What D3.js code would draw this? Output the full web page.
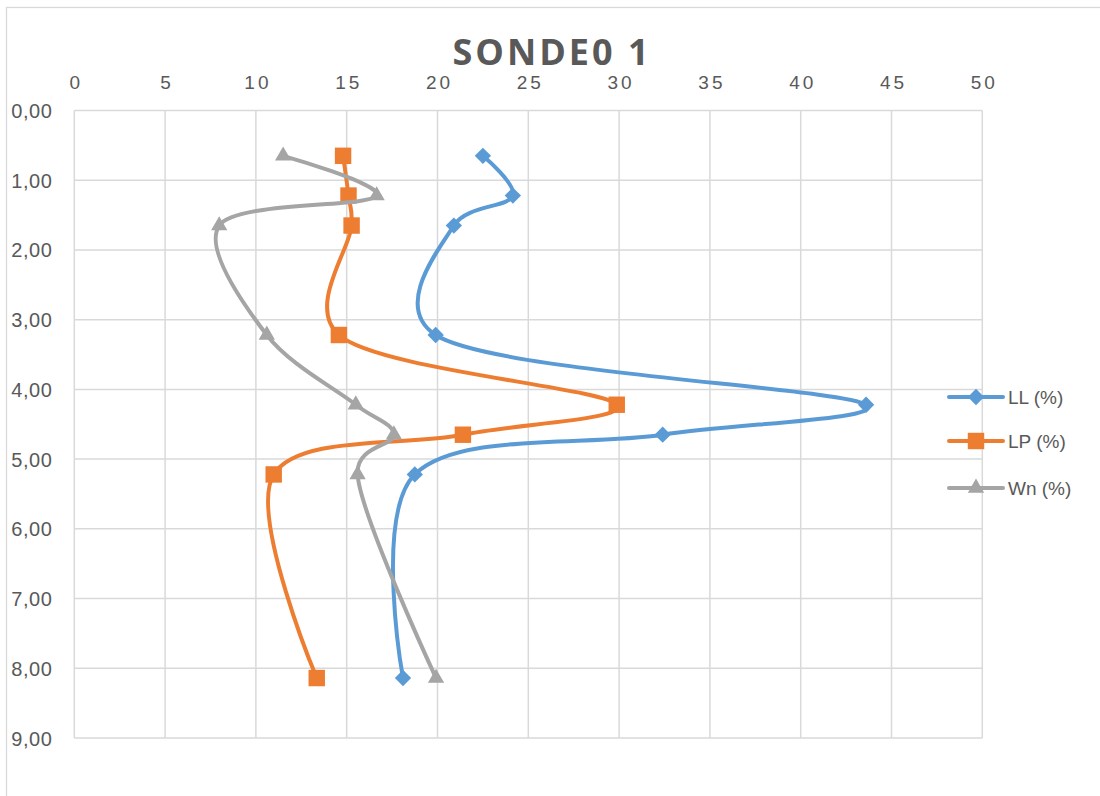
<!DOCTYPE html>
<html>
<head>
<meta charset="utf-8">
<script src="https://cdn.jsdelivr.net/npm/d3@7"></script>
<style>
  body { margin: 0; background: #fff; }
  text { font-family: "Liberation Sans", Arial, sans-serif; fill: #595959; }
</style>
</head>
<body>
<div id="chart"></div>
<script>
// data
var depths = [0.65, 1.22, 1.65, 3.22, 4.22, 4.65, 5.22, 8.14];
var llValues = [22.5, 24.15, 20.9, 19.9, 43.6, 32.4, 18.75, 18.1];
var lpValues = [14.8, 15.1, 15.27, 14.57, 29.87, 21.4, 10.98, 13.35];
var wnValues = [11.5, 16.65, 7.98, 10.6, 15.5, 17.6, 15.6, 19.92];
var seriesNames = ["LL (%)", "LP (%)", "Wn (%)"];
var xTicks = [0, 5, 10, 15, 20, 25, 30, 35, 40, 45, 50];
var yTicks = [0, 1, 2, 3, 4, 5, 6, 7, 8, 9];

var svgWidth = 1100;
var svgHeight = 796;
var margin = { top: 110.5, left: 74.3 };
var width = 908;
var height = 627.5;

var svg = d3.select("#chart")
    .append("svg")
    .attr("width", svgWidth)
    .attr("height", svgHeight);

// chart border
svg.append("rect")
    .attr("x", 6.5).attr("y", 7.5)
    .attr("width", 1200).attr("height", 900)
    .attr("fill", "none")
    .attr("stroke", "#d9d9d9")
    .attr("stroke-width", 1.3);

var chartGroup = svg.append("g")
    .attr("transform", `translate(${margin.left}, ${margin.top})`);

var xScale = d3.scaleLinear().domain([0, 50]).range([0, width]);
var yScale = d3.scaleLinear().domain([0, 9]).range([0, height]);

// gridlines
chartGroup.append("g")
    .selectAll("line")
    .data(xTicks)
    .enter()
    .append("line")
    .attr("x1", d => xScale(d)).attr("x2", d => xScale(d))
    .attr("y1", 0).attr("y2", height)
    .attr("stroke", "#d9d9d9").attr("stroke-width", 1.5);

chartGroup.append("g")
    .selectAll("line")
    .data(yTicks)
    .enter()
    .append("line")
    .attr("x1", 0).attr("x2", width)
    .attr("y1", d => yScale(d)).attr("y2", d => yScale(d))
    .attr("stroke", "#d9d9d9").attr("stroke-width", 1.5);

// top axis
var topAxis = d3.axisTop(xScale).tickValues(xTicks).tickSize(0).tickPadding(0);
var xAxis = chartGroup.append("g").call(topAxis);
xAxis.select(".domain").remove();
xAxis.selectAll("text")
    .attr("x", 1.5)
    .attr("y", -28)
    .attr("dy", "0.35em")
    .attr("font-size", 19)
    .attr("letter-spacing", 3)
    .attr("fill", "#595959")
    .style("font-family", "'Liberation Sans', Arial, sans-serif");

// left axis
var leftAxis = d3.axisLeft(yScale).tickValues(yTicks).tickSize(0).tickPadding(0)
    .tickFormat(d => d.toFixed(2).replace(".", ","));
var yAxis = chartGroup.append("g").call(leftAxis);
yAxis.select(".domain").remove();
yAxis.selectAll("text")
    .attr("x", -22)
    .attr("dy", "0.35em")
    .attr("font-size", 20)
    .attr("letter-spacing", 0.5)
    .attr("fill", "#595959")
    .style("font-family", "'Liberation Sans', Arial, sans-serif");

// title
svg.append("text")
    .attr("x", 552)
    .attr("y", 65)
    .attr("text-anchor", "middle")
    .attr("font-size", 36)
    .attr("font-weight", "bold")
    .attr("letter-spacing", 3)
    .attr("fill", "#595959")
    .style("font-family", "'Open Sans', sans-serif")
    .text("SONDE0 1");

var series = [
    { name: seriesNames[0], values: llValues, color: "#5b9bd5", symbol: d3.symbolDiamond2, size: 170 },
    { name: seriesNames[1], values: lpValues, color: "#ed7d31", symbol: d3.symbolSquare, size: 270 },
    { name: seriesNames[2], values: wnValues, color: "#a5a5a5", symbol: d3.symbolTriangle2, size: 190 }
];

var line = d3.line()
    .x(d => xScale(d[0]))
    .y(d => yScale(d[1]))
    .curve(d3.curveCatmullRom.alpha(0.2));

series.forEach(function(s) {
    var pts = s.values.map((v, i) => [v, depths[i]]);
    chartGroup.append("path")
        .datum(pts)
        .attr("d", line)
        .attr("fill", "none")
        .attr("stroke", s.color)
        .attr("stroke-width", 4)
        .attr("stroke-linecap", "round");

    chartGroup.append("g")
        .selectAll("path")
        .data(pts)
        .enter()
        .append("path")
        .attr("d", d3.symbol().type(s.symbol).size(s.size))
        .attr("transform", d => `translate(${xScale(d[0])},${yScale(d[1])})`)
        .attr("fill", s.color);
});

// legend
var legend = svg.append("g");
series.forEach(function(s, i) {
    var ly = [397, 441, 488][i];
    var item = legend.append("g").attr("transform", `translate(949, ${ly})`);
    item.append("line")
        .attr("x1", 0).attr("x2", 54)
        .attr("stroke", s.color)
        .attr("stroke-width", 4)
        .attr("stroke-linecap", "round");
    item.append("path")
        .attr("d", d3.symbol().type(s.symbol).size(s.size))
        .attr("transform", "translate(27,0)")
        .attr("fill", s.color);
    item.append("text")
        .attr("x", 59)
        .attr("dy", "0.35em")
        .attr("font-size", 19)
        .text(s.name);
});
</script>
</body>
</html>
